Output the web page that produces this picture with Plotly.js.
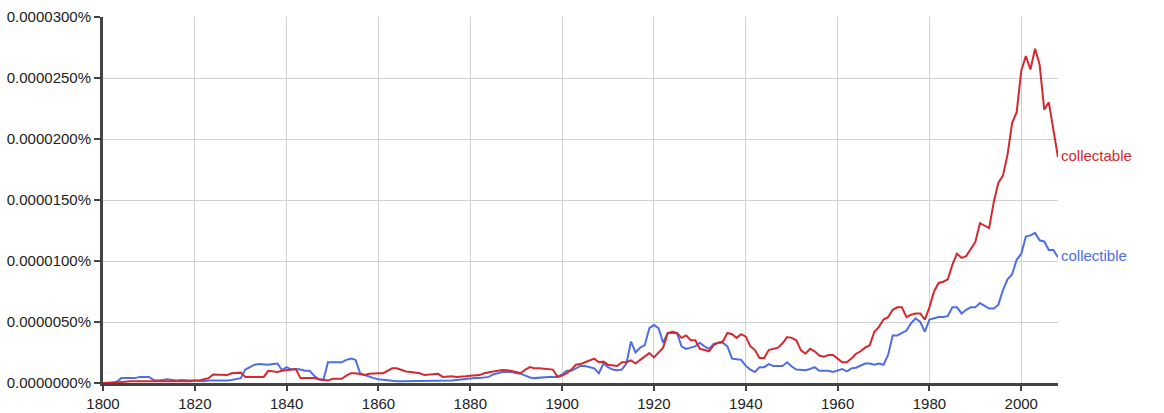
<!DOCTYPE html>
<html>
<head>
<meta charset="utf-8">
<script src="https://cdn.plot.ly/plotly-3.0.1.min.js"></script>
<style>html,body{margin:0;padding:0;background:#fff;}#chart{width:1164px;height:413px;}</style>
</head>
<body>
<div id="chart"></div>
<script>
// Values in units of 0.0000001 %
const startYear = 1800;
const collectible = [
0,0,0,1,4,4,4,4,5,5,
5,2.5,2,2.5,3,2.5,2,2.5,2,2,
2,1.5,1.5,2,2,2,1.5,2,2.5,3,
4,11,13,15,15.5,15,15,15.5,16,10.5,
13,11,11.5,11,10,10,6,3,2.5,17,
17,17,17,19,20,19,8,6.5,5,4,
3,2.5,2,1.5,1.5,1.5,1.5,1.5,1.5,1.5,
1.5,1.5,1.5,1.5,1.5,2,2,2.5,3,3.5,
4,4,4,4.5,5,7,8,9,9,9,
8,7.5,6,4.5,4,4.5,5,5,5,5,
7,10,10,12,14,14,13,12,8,16,
13,11,10.5,11,16,34,25,29,31,45,
47.5,45,33,41,41,41,30,28,29,30,
33,30,28,32,33,33,30,20,19.5,19,
14,11,9,13,13,15.5,14,14,14,17,
13.5,11,10.5,10.5,11.5,13,10,10,10,9,
10,11.5,9.5,12,12.5,14,16,16,15,16,
15,23,39,39,41,43,49,53,50,42,
52,53,54,54,55,62,62,57,60,62,
62,65.5,63,61,61,64,76,85,89,101,
106,120,121,123,117,116,109,109,103
];
const collectable = [
0,0.5,0.5,0.5,1,1.5,1.5,1.5,1.5,1.5,
1.5,1,1,1,1,1,1,1,1.5,1.5,
2,2,3,4,7,7,6.5,6.5,8,8,
8.5,5,5,5,5,5,10,9.5,9,10,
10.6,11,11.5,4,4,4,4,3,2.5,2,
3.5,3.5,3.5,6,8,8,7,6.5,7.5,8,
8,8,10,12,12,10.5,9.5,9,8.5,8,
6.5,7,7,7.5,5,5.5,5.5,5,5,5.5,
6,6,6.5,8,9,9.5,10,10.6,10.5,10,
9,8,11,13,12,12,11.5,11.5,11,5,
6,8,11,15,15.5,17,18.5,20,17,17.5,
15,14.5,14,17,17,18.5,16,19,21.6,24.5,
21,25,29,41,42,41,37,39,35,35,
28,27,26,31,33,34,41,40,37,40,
38,30,27,20.5,20.5,27,28,29,32.6,37.6,
37,35,27,24,28,26,22.5,21.6,23,23,
20,17,17,20,24,26,29,31,42,46,
52,54,60,62,62,54,56,57,57,52,
62,75,82,83,85,97,106,102.5,104,110,
115.6,131,129,127,148,164,170,187,213,222,
256,268,257,274,261,224,230,207,185
];
const seriesNames = ["collectible", "collectable"];
const colors = ["#4d6fe3", "#d42a2f"];
const yTickValues = [0, 50, 100, 150, 200, 250, 300];
const yTickLabels = ["0.0000000%", "0.0000050%", "0.0000100%", "0.0000150%", "0.0000200%", "0.0000250%", "0.0000300%"];
const xTickValues = [1800,1820,1840,1860,1880,1900,1920,1940,1960,1980,2000];

const years = collectible.map((_, i) => startYear + i);
const dataSets = [collectible, collectable];

const traces = dataSets.map((d, i) => ({
  x: years, y: d, type: "scatter", mode: "lines",
  name: seriesNames[i], line: {color: colors[i], width: 2}, hoverinfo: "x+y"
}));

const annotations = dataSets.map((d, i) => ({
  x: years[years.length - 1], y: d[d.length - 1], xref: "x", yref: "y",
  text: seriesNames[i], showarrow: false, xanchor: "left", yanchor: "middle",
  xshift: 1, yshift: 2, font: {family: "Liberation Sans, Arial, sans-serif", size: 15, color: colors[i]}
}));

const layout = {
  width: 1164, height: 413,
  margin: {l: 103, r: 106, t: 17, b: 30},
  paper_bgcolor: "#fff", plot_bgcolor: "#fff",
  showlegend: false,
  font: {family: "Liberation Sans, Arial, sans-serif", size: 15, color: "#222"},
  xaxis: {
    range: [1800, 2008], tickmode: "array", tickvals: xTickValues,
    showgrid: true, gridcolor: "#d0d0d0", gridwidth: 1,
    showline: true, linecolor: "#444", linewidth: 3,
    ticks: "outside", ticklen: 5, tickcolor: "#444", tickwidth: 2,
    zeroline: false, tickfont: {size: 15, color: "#222"}
  },
  yaxis: {
    range: [0, 300], tickmode: "array", tickvals: yTickValues, ticktext: yTickLabels,
    showgrid: true, gridcolor: "#d0d0d0", gridwidth: 1,
    showline: true, linecolor: "#444", linewidth: 3,
    ticks: "outside", ticklen: 6, tickcolor: "#444", tickwidth: 2,
    zeroline: false, tickfont: {size: 15, color: "#222"}
  },
  annotations: annotations
};

Plotly.newPlot("chart", traces, layout, {staticPlot: true, displayModeBar: false});
</script>
</body>
</html>
